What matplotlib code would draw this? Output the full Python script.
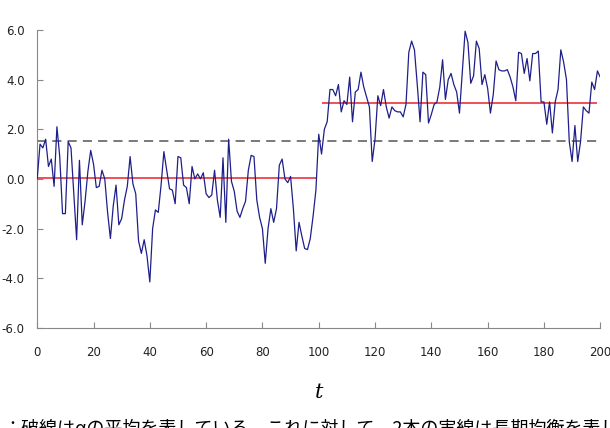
import numpy as np
import matplotlib.pyplot as plt

# series (t = 0..200)
y_first = [0.0, 1.4, 1.25, 1.6, 0.5, 0.8, -0.3, 2.1, 0.9, -1.4,
           -1.4, 1.5, 1.25, -0.6, -2.45, 0.75, -1.85, -0.9, 0.3, 1.15,
           0.6, -0.35, -0.3, 0.35, 0.0, -1.35, -2.4, -1.1, -0.25, -1.85,
           -1.6, -0.85, -0.3, 0.9, -0.2, -0.6, -2.5, -3.0, -2.45, -3.1,
           -4.15, -2.0, -1.25, -1.35, -0.25, 1.1, 0.35, -0.4, -0.45, -1.0,
           0.9, 0.85, -0.25, -0.35, -1.0, 0.5, 0.0, 0.2, 0.0, 0.25,
           -0.6, -0.75, -0.65, 0.35, -0.85, -1.55, 0.85, -1.75, 1.6, -0.1,
           -0.5, -1.3, -1.55, -1.2, -0.9, 0.35, 0.95, 0.9, -0.85, -1.55,
           -2.0, -3.4, -2.0, -1.2, -1.75, -1.2, 0.55, 0.8, 0.0, -0.15,
           0.1, -1.2, -2.9, -1.75, -2.3, -2.8, -2.85, -2.4, -1.5, -0.45]
y_second = [1.8, 1.0, 2.0, 2.3, 3.6, 3.6, 3.35, 3.8, 2.7, 3.15,
            3.0, 4.1, 2.3, 3.5, 3.6, 4.3, 3.7, 3.3, 2.9, 0.7,
            1.6, 3.35, 2.95, 3.6, 2.9, 2.45, 2.9, 2.75, 2.7, 2.7,
            2.5, 3.0, 5.1, 5.55, 5.2, 3.8, 2.3, 4.3, 4.2, 2.25,
            2.6, 3.0, 3.1, 3.7, 4.8, 3.2, 4.0, 4.25, 3.8,
            3.5, 2.65, 4.3, 5.95, 5.5, 3.85, 4.15, 5.55, 5.25, 3.8,
            4.2, 3.65, 2.65, 3.4, 4.75, 4.4, 4.35, 4.35, 4.4, 4.1,
            3.7, 3.15, 5.1, 5.05, 4.25, 4.85, 3.95, 5.05, 5.05, 5.15,
            3.1, 3.1, 2.2, 3.1, 1.85, 3.1, 3.6, 5.2, 4.7, 4.0,
            1.5, 0.7, 2.15, 0.7, 1.5, 2.9, 2.75, 2.65, 3.9, 3.6,
            4.35, 4.1]
series = np.array(y_first + y_second)
t = np.arange(len(series))

# regime means (solid red) and overall mean (dashed)
regime_level = [0.05, 3.05]
regime_start = [0, 101]
regime_end = [99, 199]
overall_mean = 1.52

yticks = [-6, -4, -2, 0, 2, 4, 6]
xticks = list(range(0, 201, 20))
caption = "：破線はαの平均を表している。これに対して、2本の実線は長期均衡を表している。"

fig = plt.figure(figsize=(6.1, 4.28), dpi=100)
ax = fig.add_axes([0.061, 0.234, 0.923, 0.696])

ax.plot(t, series, color='#1f1f8a', lw=0.9, zorder=3)
for lv, a, b in zip(regime_level, regime_start, regime_end):
    ax.hlines(lv, a, b, color='#e8202a', lw=1.1, zorder=2)
ax.hlines(overall_mean, 0, 199, color='#555555', lw=1.1, linestyles=(0, (6, 4)), zorder=2)

ax.set_xlim(0, 200)
ax.set_ylim(-6, 6)
ax.set_yticks(yticks)
ax.set_yticklabels([f"{v:.1f}" for v in yticks])
ax.set_xticks(xticks)
for s in ['top', 'right']:
    ax.spines[s].set_visible(False)
for s in ['left', 'bottom']:
    ax.spines[s].set_color('#888888')
ax.tick_params(axis='both', direction='in', length=4, color='#888888',
               labelsize=8.5, labelcolor='#222222')
ax.tick_params(axis='x', pad=13)
ax.tick_params(axis='y', pad=9)

ax.set_xlabel("t", family='DejaVu Serif', style='italic', fontsize=15, labelpad=17)

fig.text(0.005, 0.0, caption, family=['Noto Sans CJK JP', 'DejaVu Sans'],
         fontsize=13, ha='left', va='center')

fig.savefig("out.png", dpi=100)
